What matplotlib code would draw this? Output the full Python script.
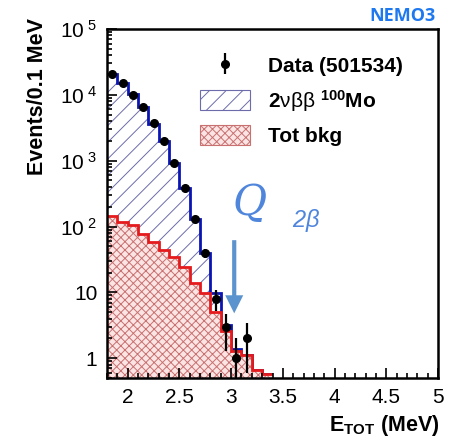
"""NEMO3 100Mo 2vbb energy sum spectrum, ROOT-style log plot."""
import matplotlib
matplotlib.use("Agg")
import matplotlib.pyplot as plt
from matplotlib.patches import Patch
from matplotlib.ticker import FixedLocator, MultipleLocator, LogLocator, NullFormatter

plt.rcParams["font.family"] = ["Liberation Sans", "DejaVu Sans"]
plt.rcParams["mathtext.fontset"] = "custom"
plt.rcParams["mathtext.rm"] = "Liberation Sans"
plt.rcParams["mathtext.bf"] = "Liberation Sans:bold"
plt.rcParams["mathtext.it"] = "Liberation Sans:italic"
plt.rcParams["hatch.linewidth"] = 0.7

# --- data ---
edges = [1.8, 1.9, 2.0, 2.1, 2.2, 2.3, 2.4, 2.5, 2.6, 2.7, 2.8, 2.9,
         3.0, 3.1, 3.2, 3.3, 3.4]
mc_total = [21000, 15000, 10200, 6600, 3600, 2000, 920, 380, 128, 40, 9.7,
            3.2, 1.37, 1.1, 0.66, 0.57]
bkg = [145, 117, 105, 76, 58, 44, 34, 24, 14, 9.7, 5.0, 2.6, 1.3, 1.1,
       0.66, 0.57]

data_x = [1.85, 1.95, 2.05, 2.15, 2.25, 2.35, 2.45, 2.55, 2.65, 2.75,
          2.85, 2.95, 3.05, 3.15]
data_y = [21000, 15000, 10000, 6500, 3700, 2000, 920, 380, 130, 40,
          8, 3, 1, 2]
data_err = [145, 122, 100, 81, 61, 45, 30, 19, 11.4, 6.3, 2.8, 1.7, 1.0, 1.4]

q_value = 3.03
ytick_vals = [1, 10, 100, 1e3, 1e4, 1e5]
ytick_labels = ["1", "10", r"10$^{\ 2}$", r"10$^{\ 3}$", r"10$^{\ 4}$",
                r"10$^{\ 5}$"]
xtick_vals = [2, 2.5, 3, 3.5, 4, 4.5, 5]
xtick_labels = ["2", "2.5", "3", "3.5", "4", "4.5", "5"]

BLUE_LINE = "#0a14b4"
BLUE_HATCH = "#6c6cab"
RED_LINE = "#e41a1c"
RED_HATCH = "#c97070"
RED_FACE = "#fbe4e4"

W, H = 456, 442
fig = plt.figure(figsize=(W / 100, H / 100), dpi=100)
ax = fig.add_axes([107 / W, 1 - 378 / H, 331 / W, 349 / H])
ax.set_yscale("log")

# 2vbb (total) hatched + line
ax.stairs(mc_total, edges, fill=True, baseline=0.5, facecolor="white",
          edgecolor=BLUE_HATCH, hatch="//", linewidth=0)
ax.stairs(mc_total, edges, baseline=None, color=BLUE_LINE, linewidth=2.0)
# background cross-hatched + line
ax.stairs(bkg, edges, fill=True, baseline=0.5, facecolor=RED_FACE,
          edgecolor=RED_HATCH, hatch="xxxx", linewidth=0)
ax.stairs(bkg, edges, baseline=None, color=RED_LINE, linewidth=2.0)

# data
eb = ax.errorbar(data_x, data_y, yerr=data_err, fmt="o", color="black",
                 markersize=5.5, elinewidth=1.6, capsize=0, zorder=5)

# Q_2b arrow
ax.annotate("", xy=(q_value, 4.8), xytext=(q_value, 62),
            arrowprops=dict(facecolor="#5b93cf", edgecolor="none", width=3,
                            headwidth=13, headlength=13, shrink=0))

ax.set_xlim(1.8, 5)
ax.set_ylim(0.5, 1e5)

ax.xaxis.set_major_locator(FixedLocator(xtick_vals))
ax.set_xticklabels(xtick_labels)
ax.xaxis.set_minor_locator(MultipleLocator(0.1))
ax.yaxis.set_major_locator(FixedLocator(ytick_vals))
ax.set_yticklabels(ytick_labels)
ax.yaxis.set_minor_locator(LogLocator(base=10, subs=range(2, 10), numticks=20))
ax.yaxis.set_minor_formatter(NullFormatter())
ax.tick_params(which="both", direction="in", top=False, right=False,
               labelsize=15, width=1.2)
ax.tick_params(which="major", length=7, pad=7)
ax.tick_params(which="minor", length=3.5)
for s in ax.spines.values():
    s.set_linewidth(1.8)

# legend
handles = [eb,
           Patch(facecolor="white", edgecolor=BLUE_HATCH, hatch="//",
                 linewidth=0.8),
           Patch(facecolor=RED_FACE, edgecolor=RED_HATCH, hatch="xxxx",
                 linewidth=0.8)]
labels = ["Data (501534)", r"2$\mathrm{\nu\beta\beta}$ $^{\mathbf{100}}$Mo",
          "Tot bkg"]
ax.legend(handles, labels, loc="upper left", bbox_to_anchor=(0.281, 0.925),
          frameon=False, prop=dict(size=15, weight="bold"), borderpad=0,
          borderaxespad=0, handlelength=2.4, handleheight=1.1,
          handletextpad=0.85, labelspacing=0.55)

# axis titles
fig.text(38 / W, 1 - 18 / H, "Events/0.1 MeV", rotation=90, ha="center",
         va="top", fontsize=15.5, fontweight="bold")
fig.text(440 / W, 1 - 425 / H, r"E$_{\mathbf{TOT}}$ (MeV)", ha="right",
         va="center", fontsize=15.5, fontweight="bold")
fig.text(436 / W, 1 - 16 / H, "NEMO3", ha="right", va="center",
         fontsize=13, fontweight="bold", color="#1e78f0",
         family=["Open Sans", "DejaVu Sans"])

# handwritten Q_2beta
fig.text(250 / W, 1 - 203 / H, "Q", ha="center", va="center", fontsize=30,
         color="#4f86dc", style="italic", family=["DejaVu Serif"])
fig.text(306 / W, 1 - 220 / H, r"2$\beta$", ha="center", va="center",
         fontsize=17, color="#4f86dc", style="italic")

fig.savefig("out.png", dpi=100)
